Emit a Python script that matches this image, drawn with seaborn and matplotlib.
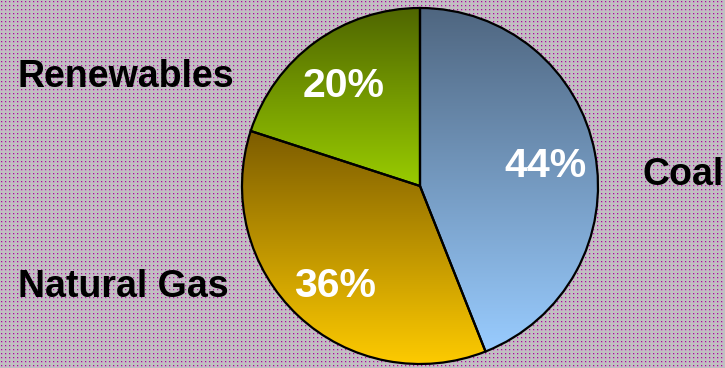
import numpy as np
import matplotlib
matplotlib.use("Agg")
import matplotlib.pyplot as plt
import seaborn as sns

# Electricity generation mix
sources = ["Coal", "Natural Gas", "Renewables"]
shares = [44, 36, 20]
pct_labels = ["44%", "36%", "20%"]

# vertical gradient per slice: (top colour, bottom colour)
gradients = [("#4f6680", "#99ccff"), ("#7c5c00", "#ffcc00"), ("#4f6600", "#99cc00")]

sns.set_theme(style="white")
plt.rcParams["font.family"] = ["Liberation Sans", "DejaVu Sans"]

W, H = 725, 368
fig = plt.figure(figsize=(W / 100, H / 100), dpi=100)
ax = fig.add_axes([0, 0, 1, 1])

# dotted mauve backdrop: grey base with small magenta and pink specks
bg = np.full((H, W, 3), 192 / 255.0)
yy, xx = np.mgrid[0:H, 0:W]
dark = (yy % 4 == 1) & (xx % 4 == 1)
light = ((yy % 4 == 1) & (xx % 4 == 2)) | ((yy % 4 == 2) & (xx % 4 == 1))
pale = (yy % 4 == 2) & (xx % 4 == 2)
bg[dark] = np.array([150, 30, 140]) / 255.0
bg[light] = np.array([205, 130, 200]) / 255.0
bg[pale] = np.array([200, 165, 200]) / 255.0
ax.imshow(bg, extent=[0, W, 0, H], origin="upper", aspect="auto",
          interpolation="nearest", zorder=0)

cx, cy, r = 420, H - 186, 178
wedges, _ = ax.pie(
    shares,
    startangle=90,
    counterclock=False,
    center=(cx, cy),
    radius=r,
    frame=True,
    wedgeprops=dict(edgecolor="black", linewidth=1.6),
)
ax.set_xlim(0, W)
ax.set_ylim(0, H)
ax.set_aspect("auto")
ax.axis("off")

fig.canvas.draw()
inv = ax.transData.inverted()
for wedge, (top, bottom) in zip(wedges, gradients):
    pts = inv.transform(wedge.get_transform().transform(wedge.get_path().vertices))
    x0, y0 = pts.min(axis=0)
    x1, y1 = pts.max(axis=0)
    ramp = np.array(sns.blend_palette([bottom, top], n_colors=256))
    img = ramp[:, None, :]
    im = ax.imshow(img, extent=[x0, x1, y0, y1], origin="lower",
                   aspect="auto", interpolation="bilinear", zorder=1)
    im.set_clip_path(wedge)
    wedge.set_facecolor("none")
    wedge.set_zorder(3)

# category names
label_kw = dict(fontsize=27, fontweight="bold", color="black", va="baseline", zorder=5)
ax.text(643, H - 185, sources[0], ha="left", **label_kw)
ax.text(18, H - 297, sources[1], ha="left", **label_kw)
ax.text(18, H - 87, sources[2], ha="left", **label_kw)

# percentage labels
pct_kw = dict(fontsize=29.5, fontweight="bold", color="white", va="baseline", ha="center", zorder=5)
ax.text(546, H - 177, pct_labels[0], **pct_kw)
ax.text(335, H - 297, pct_labels[1], **pct_kw)
ax.text(344, H - 97, pct_labels[2], **pct_kw)

fig.savefig("out.png", dpi=100)
